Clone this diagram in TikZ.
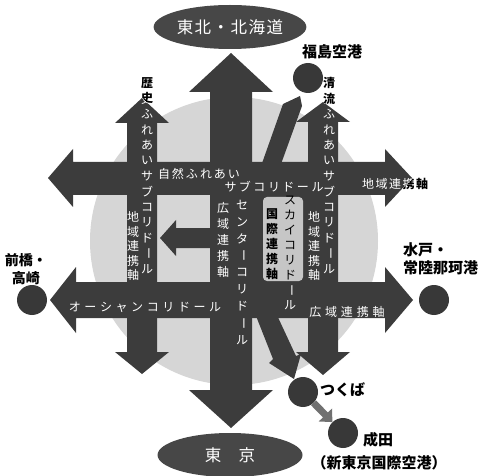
\documentclass[tikz,border=0pt]{standalone}
\usepackage{fontspec}
\usepackage{graphicx}
\usetikzlibrary{arrows.meta,shapes.geometric}
\newfontfamily\jp{Noto Sans CJK JP}
\definecolor{arrowc}{HTML}{3C3C3C}
\definecolor{bgc}{HTML}{D6D6D6}
\definecolor{ellc}{HTML}{474747}
\definecolor{cityc}{HTML}{383838}
\definecolor{rectc}{HTML}{C6C6C6}
\definecolor{linkc}{HTML}{707070}
\newlength\cpitch
\def\hsloop#1{\ifx#1\relax\else\makebox[\cpitch]{#1}\expandafter\hsloop\fi}
\newcommand\hspread[2]{\setlength\cpitch{#1}\hsloop#2\relax}
\def\vglyph#1{\ifx#1ー\rotatebox[origin=c]{-90}{ー}\else#1\fi}
\def\vcharbox#1{\vbox to\cpitch{\vss\hbox to 1.2em{\hss\vglyph{#1}\hss}\vss}}
\def\vsloop#1{\ifx#1\relax\else\vcharbox{#1}\expandafter\vsloop\fi}
\newcommand\vspread[2]{\setlength\cpitch{#1}\vbox{\offinterlineskip\vsloop#2\relax}}
\def\pathUpperH{(48,178) -- (73,149) -- (73,162) -- (385,162) -- (385,149) -- (412,178) -- (385,207) -- (385,195) -- (73,195) -- (73,207) -- cycle}
\def\pathLowerH{(50,300) -- (76,267) -- (76,282) -- (385,282) -- (385,267) -- (413,300) -- (385,333) -- (385,318) -- (76,318) -- (76,333) -- cycle}
\def\pathCenterV{(231,53) -- (273,92) -- (252,92) -- (252,390) -- (273,390) -- (231,428) -- (189,390) -- (210,390) -- (210,92) -- (189,92) -- cycle}
\def\pathLeftV{(142,98) -- (169,123) -- (157,123) -- (157,352) -- (169,352) -- (142,374) -- (115,352) -- (127,352) -- (127,123) -- (115,123) -- cycle}
\def\pathRightV{(323,102) -- (350,122) -- (338,122) -- (338,352) -- (350,352) -- (323,375) -- (296,352) -- (308,352) -- (308,122) -- (296,122) -- cycle}
\def\pathMidL{(160,238) -- (176,220) -- (176,228) -- (212,228) -- (212,248) -- (176,248) -- (176,256) -- cycle}
\def\pathKblock{(251,195) rectangle (309,283)}
\def\pathUpDiag{(249,200) -- (283,104) -- (300,96) -- (302,106) -- (268,200) -- cycle}
\def\pathLowDiag{(243,283) -- (273,359) -- (269,363) -- (294,379) -- (301,354) -- (296,356) -- (262,283) -- cycle}
\begin{document}
\begin{tikzpicture}[x=1pt,y=-1pt,
  wt/.style={text=white, inner sep=0pt, font=\jp\fontsize{12}{14}\selectfont},
  bk/.style={text=black, inner sep=0pt, font=\jp\bfseries\fontsize{12}{14}\selectfont},
  lab/.style={text=black, inner sep=0pt, font=\jp\bfseries\fontsize{15}{18}\selectfont},
  city/.style={circle, fill=cityc, minimum size=30pt, inner sep=0pt},
  ell/.style={ellipse, fill=ellc, minimum width=145pt, minimum height=44pt, inner sep=0pt, text=white, font=\jp\fontsize{16.5}{18}\selectfont}]
\useasboundingbox (0,0) rectangle (485,476);
% background disc
\fill[bgc] (234,241) circle[radius=144];
% black versions of texts that leave the arrows
\node[bk] (rekishiB) at (147,176) {\vspread{15.5pt}{歴史ふれあいサブコリドール}};
\node[bk] (seiryuB) at (329,176) {\vspread{15.5pt}{清流ふれあいサブコリドール}};
\node[bk] (chiikiRB) at (395,184) {\hspread{13.5pt}{地域連携軸}};
% arrows
\fill[arrowc] \pathUpperH;
\fill[arrowc] \pathLowerH;
\fill[arrowc] \pathCenterV;
\fill[arrowc] \pathLeftV;
\fill[arrowc] \pathRightV;
\fill[arrowc] \pathMidL;
\fill[arrowc] \pathKblock;
\fill[arrowc] \pathUpDiag;
\fill[arrowc] \pathLowDiag;
\fill[rectc, rounded corners=4pt] (263,197) rectangle (303,281);
% white versions clipped to arrows
\begin{scope}
  \clip \pathLeftV;
  \node[wt] (rekishiW) at (147,176) {\vspread{15.5pt}{歴史ふれあいサブコリドール}};
\end{scope}
\begin{scope}
  \clip \pathRightV;
  \node[wt] (seiryuW) at (329,176) {\vspread{15.5pt}{清流ふれあいサブコリドール}};
\end{scope}
\begin{scope}
  \clip \pathUpperH;
  \node[wt] (chiikiRW) at (395,184) {\hspread{13.5pt}{地域連携軸}};
\end{scope}
% texts inside arrows
\node[wt] (shizen1) at (199,174) {\hspread{14pt}{自然ふれあい}};
\node[wt] (shizen2) at (274,187) {\hspread{14.5pt}{サブコリドール}};
\node[wt] (ocean) at (145,307) {\hspread{15.6pt}{オーシャンコリドール}};
\node[wt] (kouikiR) at (347,312) {\hspread{15.8pt}{広域連携軸}};
\node[wt] (chiikiL) at (133,246) {\vspread{14.5pt}{地域連携軸}};
\node[wt] (chiikiR) at (314,246) {\vspread{14.5pt}{地域連携軸}};
\node[wt] (kouikiC) at (223,240) {\vspread{16pt}{広域連携軸}};
\node[wt] (center) at (242,272.5) {\vspread{16.9pt}{センターコリドール}};
\node[bk, font=\jp\fontsize{12}{14}\selectfont] (sky1) at (290,237.5) {\vspread{15pt}{スカイコリド}};
\node[wt] (sky2) at (290,297.5) {\vspread{15pt}{ール}};
\node[bk] (kokusai) at (272,244) {\vspread{15pt}{国際連携軸}};
% end ellipses
\node[ell] (tohoku) at (230,27) {\hspread{18pt}{東北・北海道}};
\node[ell] (tokyo) at (230,455) {\hspread{17pt}{東　京}};
% cities
\node[city] (fukushima) at (308,78) {};
\node[city] (maebashi) at (32,300) {};
\node[city] (mito) at (434,300) {};
\node[city] (tsukuba) at (303,392) {};
\node[city] (narita) at (343,433) {};
\draw[linkc, line width=7pt, -{Triangle[length=10pt,width=18pt]}] (tsukuba) -- (narita);
% labels
\node[lab] (fukushimaL) at (332,52) {福島空港};
\node[lab, align=center, font=\jp\bfseries\fontsize{14}{18}\selectfont] (maebashiL) at (26,269) {前橋・\\高崎};
\node[lab, align=left, anchor=west] (mitoL) at (403,259) {水戸・\\常陸那珂港};
\node[lab, anchor=west] (tsukubaL) at (320,390) {つくば};
\node[lab, anchor=west] (naritaL) at (363,440) {成田};
\node[lab] (naritaL2) at (379,463) {（新東京国際空港）};
\end{tikzpicture}
\end{document}
